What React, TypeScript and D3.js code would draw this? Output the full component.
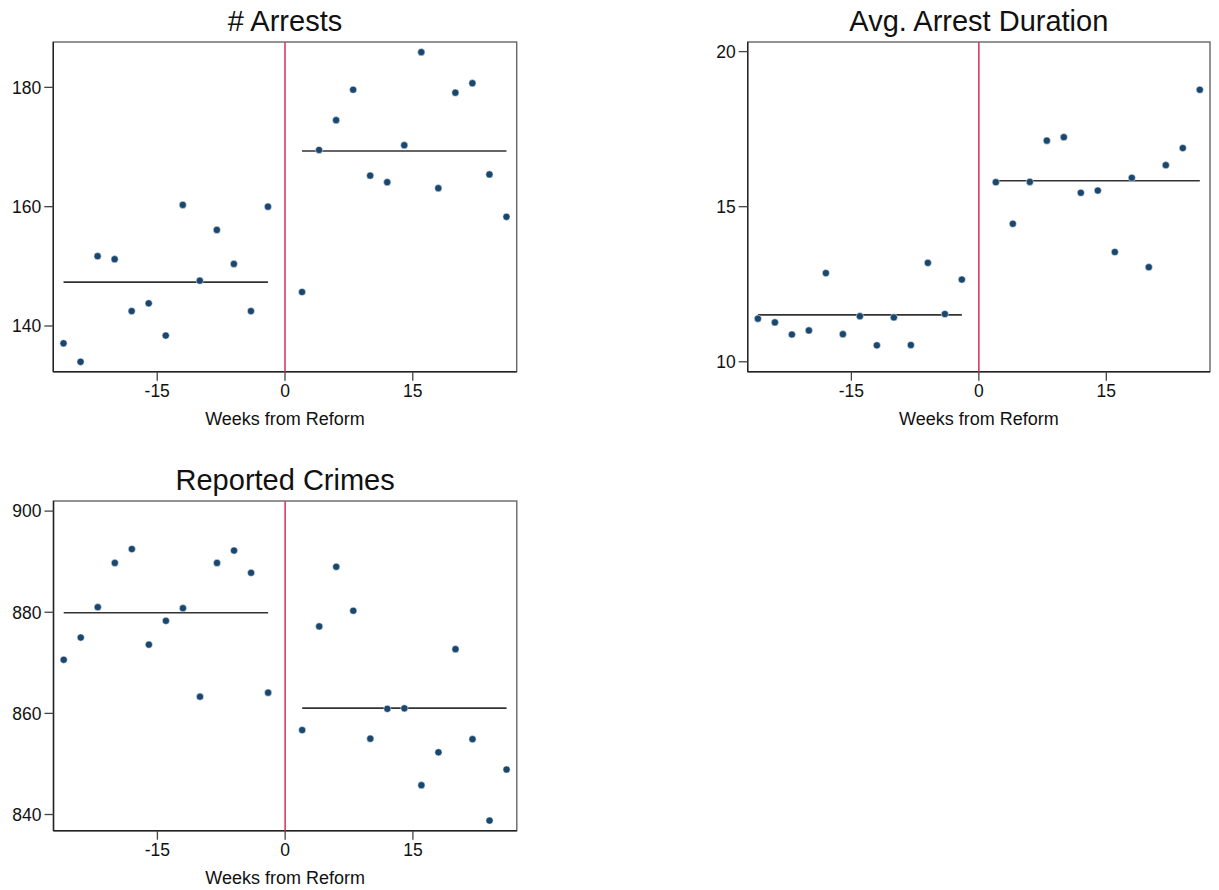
import React from "react";
import * as d3 from "d3";

const weeksPre = [-26, -24, -22, -20, -18, -16, -14, -12, -10, -8, -6, -4, -2];
const weeksPost = [2, 4, 6, 8, 10, 12, 14, 16, 18, 20, 22, 24, 26];

const arrestsPre = [137.1, 134.0, 151.7, 151.2, 142.5, 143.8, 138.4, 160.3, 147.6, 156.1, 150.4, 142.5, 160.0];
const arrestsPost = [145.7, 169.5, 174.5, 179.6, 165.2, 164.1, 170.3, 185.9, 163.1, 179.1, 180.7, 165.4, 158.3];

const durationPre = [11.39, 11.27, 10.88, 11.01, 12.86, 10.89, 11.47, 10.53, 11.43, 10.54, 13.19, 11.54, 12.65];
const durationPost = [15.79, 14.45, 15.8, 17.13, 17.24, 15.45, 15.52, 13.54, 15.93, 13.05, 16.34, 16.89, 18.77];

const crimesPre = [870.6, 875.0, 881.0, 889.75, 892.5, 873.6, 878.3, 880.8, 863.3, 889.75, 892.2, 887.8, 864.1];
const crimesPost = [856.7, 877.2, 889.0, 880.3, 855.0, 860.9, 861.0, 845.8, 852.3, 872.7, 854.9, 838.8, 848.9];

const xTicks = [-15, 0, 15];
const arrestsTicks = [140, 160, 180];
const durationTicks = [10, 15, 20];
const crimesTicks = [840, 860, 880, 900];

const xLabel = "Weeks from Reform";
const FONT = "'Liberation Sans', Arial, Helvetica, sans-serif";

type PanelProps = {
  title: string;
  left: number;
  top: number;
  width: number;
  height: number;
  yDomain: [number, number];
  yTicks: number[];
  pre: number[];
  post: number[];
};

function Panel({ title, left, top, width, height, yDomain, yTicks, pre, post }: PanelProps) {
  const x = d3.scaleLinear().domain([-27.2, 27.2]).range([left, left + width]);
  const y = d3.scaleLinear().domain(yDomain).range([top + height, top]);
  const bottom = top + height;
  const meanPre = d3.mean(pre) as number;
  const meanPost = d3.mean(post) as number;
  const line = d3
    .line<[number, number]>()
    .x((d) => x(d[0]))
    .y((d) => y(d[1]));
  const prePts = weeksPre.map((w, i) => ({ w, v: pre[i] }));
  const postPts = weeksPost.map((w, i) => ({ w, v: post[i] }));
  return (
    <g>
      <text
        x={left + width / 2}
        y={top - 11}
        textAnchor="middle"
        fontSize={29}
        fill="#111"
        fontFamily={FONT}
      >
        {title}
      </text>
      <rect x={left} y={top} width={width} height={height} fill="white" stroke="#666" strokeWidth={1.4} />
      <line x1={left} x2={left} y1={top} y2={bottom} stroke="#222" strokeWidth={1.4} />
      <line x1={left} x2={left + width} y1={bottom} y2={bottom} stroke="#222" strokeWidth={1.4} />
      {yTicks.map((t) => (
        <g key={"y" + t}>
          <line x1={left - 9} x2={left} y1={y(t)} y2={y(t)} stroke="#444" strokeWidth={1.3} />
          <text
            x={left - 12}
            y={y(t)}
            dy="0.36em"
            textAnchor="end"
            fontSize={17.5}
            fill="#111"
            fontFamily={FONT}
          >
            {t}
          </text>
        </g>
      ))}
      {xTicks.map((t) => (
        <g key={"x" + t}>
          <line x1={x(t)} x2={x(t)} y1={bottom} y2={bottom + 9} stroke="#444" strokeWidth={1.3} />
          <text
            x={x(t)}
            y={bottom + 25.5}
            textAnchor="middle"
            fontSize={17.5}
            fill="#111"
            fontFamily={FONT}
          >
            {t}
          </text>
        </g>
      ))}
      <text
        x={left + width / 2}
        y={bottom + 53.5}
        textAnchor="middle"
        fontSize={18}
        fill="#111"
        fontFamily={FONT}
      >
        {xLabel}
      </text>
      <line x1={x(0)} x2={x(0)} y1={top} y2={bottom} stroke="#d63d62" strokeWidth={1.6} />
      <path
        d={line([
          [weeksPre[0], meanPre],
          [weeksPre[weeksPre.length - 1], meanPre],
        ]) as string}
        stroke="#333"
        strokeWidth={1.6}
        fill="none"
      />
      <path
        d={line([
          [weeksPost[0], meanPost],
          [weeksPost[weeksPost.length - 1], meanPost],
        ]) as string}
        stroke="#333"
        strokeWidth={1.6}
        fill="none"
      />
      {prePts.concat(postPts).map((p, i) => (
        <circle key={i} cx={x(p.w)} cy={y(p.v)} r={3.6} fill="#1a476f" stroke="white" strokeWidth={0.5} />
      ))}
    </g>
  );
}

export default function App() {
  return (
    <svg
      width={1219}
      height={890}
      style={{ position: "absolute", left: 0, top: 0, background: "white" }}
    >
      <rect x={0} y={0} width={1219} height={890} fill="white" />
      <Panel
        title="# Arrests"
        left={53.3}
        top={42}
        width={463.4}
        height={329.7}
        yDomain={[132.34, 187.6]}
        yTicks={arrestsTicks}
        pre={arrestsPre}
        post={arrestsPost}
      />
      <Panel
        title="Avg. Arrest Duration"
        left={747.7}
        top={42}
        width={462.3}
        height={329.7}
        yDomain={[9.68, 20.31]}
        yTicks={durationTicks}
        pre={durationPre}
        post={durationPost}
      />
      <Panel
        title="Reported Crimes"
        left={53.5}
        top={501}
        width={463.3}
        height={329.7}
        yDomain={[836.8, 902.0]}
        yTicks={crimesTicks}
        pre={crimesPre}
        post={crimesPost}
      />
    </svg>
  );
}
